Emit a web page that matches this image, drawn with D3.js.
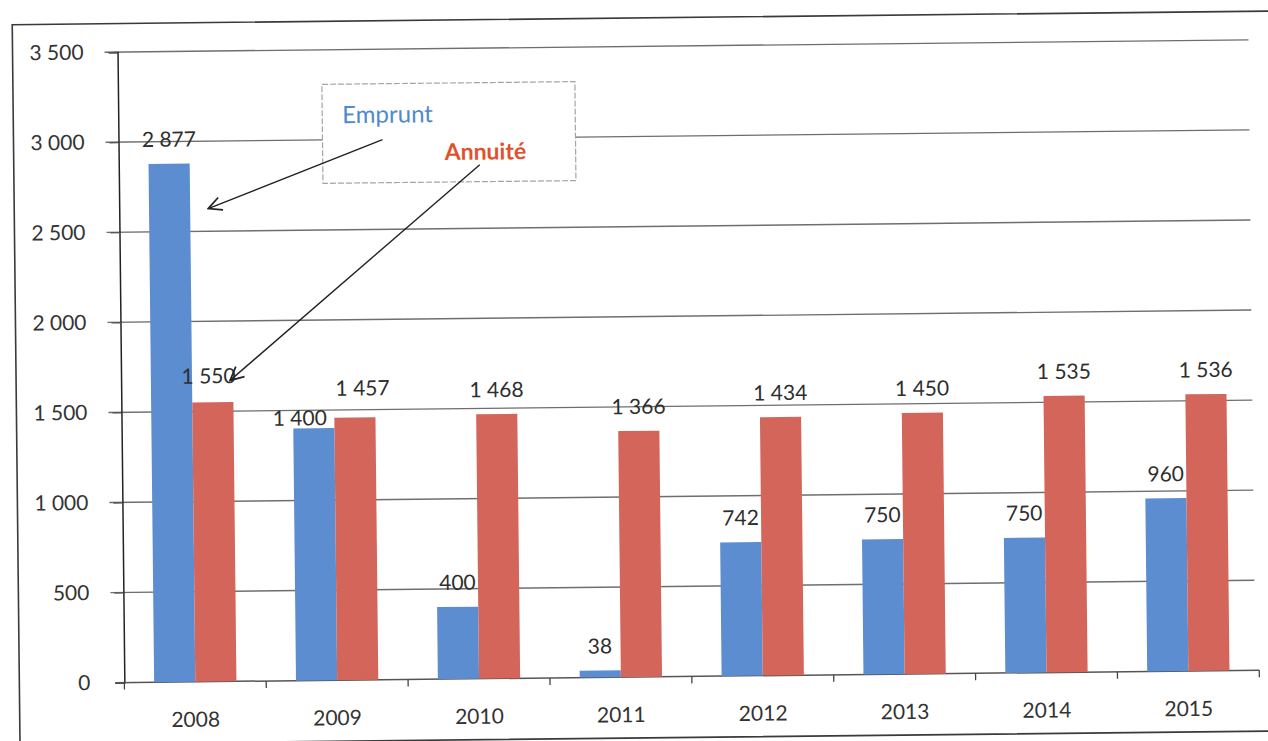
<!DOCTYPE html>
<html>
<head>
<meta charset="utf-8">
<script src="https://cdn.jsdelivr.net/npm/d3@7"></script>
<style>
  html, body { margin: 0; padding: 0; background: #ffffff; }
  svg { display: block; }
  text { font-family: Lato, "Open Sans", sans-serif; }
</style>
</head>
<body>
<svg id="chart" width="1268" height="741"></svg>
<script>
// Years on the category axis
const years = ["2008", "2009", "2010", "2011", "2012", "2013", "2014", "2015"];
// Series names
const seriesNames = ["Emprunt", "Annuité"];
// Borrowing per year
const emprunt = [2877, 1400, 400, 38, 742, 750, 750, 960];
// Annual repayment per year
const annuite = [1550, 1457, 1468, 1366, 1434, 1450, 1535, 1536];
// Value axis ticks
const yTicks = [0, 500, 1000, 1500, 2000, 2500, 3000, 3500];

const colors = { "Emprunt": "#5b8dd0", "Annuité": "#d4655b" };
const legendColors = { "Emprunt": "#5089cc", "Annuité": "#e2502c" };

// Hand-placed label nudges (dx, dy) for labels that would collide
const labelNudge = {
  "Emprunt|2009": [-14, 14],
  "Annuité|2009": [8, -5],
  "Annuité|2008": [-4, -2]
};

const svg = d3.select("#chart");
// The whole sheet sits very slightly tilted
const root = svg.append("g").attr("transform", "rotate(-0.62 634 370)");

const plotLeft = 121, plotRight = 1256, plotTop = 46.5, plotBottom = 677;

// Outer chart frame
root.append("rect")
  .attr("x", 16).attr("y", 18)
  .attr("width", 1290).attr("height", 720)
  .attr("fill", "none").attr("stroke", "#3a3a3a").attr("stroke-width", 1.6);

const y = d3.scaleLinear().domain([0, 3500]).range([plotBottom, plotTop]);
const x0 = d3.scaleBand().domain(years).range([plotLeft, plotRight]).paddingInner(0.42).paddingOuter(0.21);
const x1 = d3.scaleBand().domain(seriesNames).range([0, x0.bandwidth()]);

const fmt = d3.formatLocale({ decimal: ",", thousands: "\u00a0", grouping: [3], currency: ["", " €"] }).format(",d");

// Horizontal gridlines
root.append("g").selectAll("line").data(yTicks.filter(d => d > 0)).join("line")
  .attr("x1", plotLeft - 13).attr("x2", plotRight - 4)
  .attr("y1", d => y(d)).attr("y2", d => y(d))
  .attr("stroke", "#6e6e6e").attr("stroke-width", 1.4);

// Value axis
const yAxis = root.append("g").attr("transform", `translate(${plotLeft},0)`)
  .call(d3.axisLeft(y).tickValues(yTicks).tickFormat(fmt).tickSize(9).tickPadding(25));
yAxis.select(".domain").attr("stroke", "#222").attr("stroke-width", 1.5);
yAxis.selectAll(".tick line").attr("stroke", "#555").attr("stroke-width", 1.3);
yAxis.selectAll(".tick text").attr("font-size", 21).attr("fill", "#333")
  .style("font-family", "Lato, sans-serif");

// Category axis
const xAxis = root.append("g").attr("transform", `translate(0,${plotBottom})`);
xAxis.append("line").attr("x1", plotLeft - 9).attr("x2", plotRight)
  .attr("y1", 0).attr("y2", 0).attr("stroke", "#555").attr("stroke-width", 1.5);
const step = x0.step();
xAxis.selectAll("line.tk").data(d3.range(years.length + 1)).join("line")
  .attr("class", "tk")
  .attr("x1", i => plotLeft + i * step).attr("x2", i => plotLeft + i * step)
  .attr("y1", 0).attr("y2", 7).attr("stroke", "#444").attr("stroke-width", 1.3);
xAxis.selectAll("text").data(years).join("text")
  .attr("x", d => x0(d) + x0.bandwidth() / 2)
  .attr("y", 45)
  .attr("text-anchor", "middle")
  .attr("font-size", 21).attr("fill", "#333")
  .text(d => d);

// Bars
const rows = years.map((yr, i) => ({ year: yr, values: [
  { name: "Emprunt", value: emprunt[i] },
  { name: "Annuité", value: annuite[i] }
] }));

const groups = root.append("g").selectAll("g").data(rows).join("g")
  .attr("transform", d => `translate(${x0(d.year)},0)`);

groups.selectAll("rect").data(d => d.values).join("rect")
  .attr("x", d => x1(d.name))
  .attr("y", d => y(d.value))
  .attr("width", x1.bandwidth())
  .attr("height", d => plotBottom - y(d.value))
  .attr("fill", d => colors[d.name]);

// Value labels
groups.selectAll("text").data(d => d.values.map(v => ({ ...v, year: d.year }))).join("text")
  .attr("x", d => x1(d.name) + x1.bandwidth() / 2 + (labelNudge[d.name + "|" + d.year] || [0, 0])[0])
  .attr("y", d => y(d.value) - 17 + (labelNudge[d.name + "|" + d.year] || [0, 0])[1])
  .attr("text-anchor", "middle")
  .attr("font-size", 21).attr("fill", "#2e2e2e")
  .text(d => fmt(d.value));

// Series key box with pointing arrows
const key = root.append("g");
key.append("rect")
  .attr("x", 325).attr("y", 81).attr("width", 253).attr("height", 99)
  .attr("fill", "#ffffff").attr("stroke", "#a5a5a5").attr("stroke-width", 1.2)
  .attr("stroke-dasharray", "6 2");
key.append("text").attr("x", 345).attr("y", 120)
  .attr("font-size", 24).attr("font-weight", 400).attr("fill", legendColors["Emprunt"])
  .text(seriesNames[0]);
key.append("text").attr("x", 447).attr("y", 158)
  .attr("font-size", 23).attr("font-weight", 700).attr("fill", legendColors["Annuité"])
  .text(seriesNames[1]);

svg.append("defs").append("marker")
  .attr("id", "head").attr("viewBox", "0 0 12 12")
  .attr("refX", 11).attr("refY", 6)
  .attr("markerWidth", 16).attr("markerHeight", 16)
  .attr("markerUnits", "userSpaceOnUse")
  .attr("orient", "auto")
  .append("path").attr("d", "M1,1 L11,6 L1,11")
  .attr("fill", "none").attr("stroke", "#222").attr("stroke-width", 1.3);

const arrows = [
  { x1: 385, y1: 137, x2: 210, y2: 204 },
  { x1: 482, y1: 163, x2: 230, y2: 376 }
];
key.selectAll("line.arrow").data(arrows).join("line")
  .attr("class", "arrow")
  .attr("x1", d => d.x1).attr("y1", d => d.y1)
  .attr("x2", d => d.x2).attr("y2", d => d.y2)
  .attr("stroke", "#222").attr("stroke-width", 1.4)
  .attr("marker-end", "url(#head)");
</script>
</body>
</html>
